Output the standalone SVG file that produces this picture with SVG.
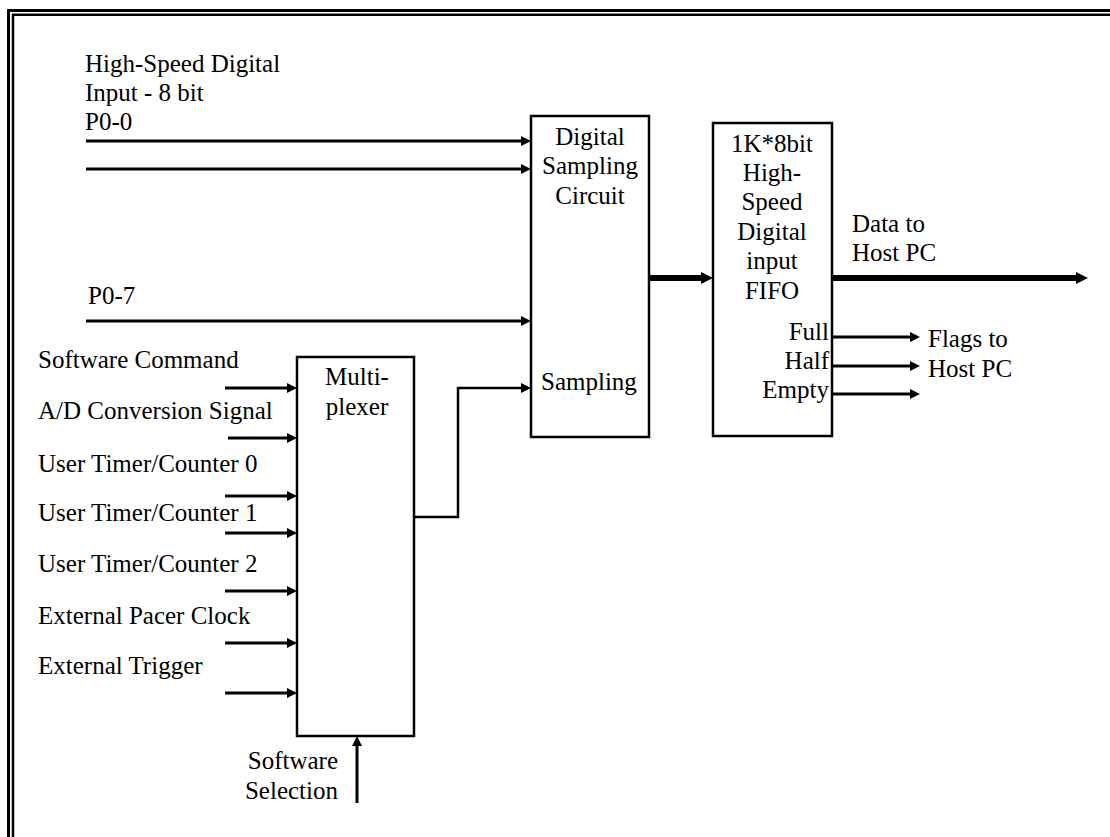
<svg xmlns="http://www.w3.org/2000/svg" width="1110" height="837" viewBox="0 0 1110 837">
<style>
text{font-family:'Liberation Serif','Times New Roman','DejaVu Serif',serif;font-size:25px;fill:#000}
.box{fill:#fff;stroke:#000;stroke-width:2.5}
.ln{fill:none;stroke:#000;stroke-width:3}
.thick{fill:none;stroke:#000;stroke-width:6}
.thin{fill:none;stroke:#000;stroke-width:2.5}
.frame{fill:none;stroke:#000}
.mid{text-anchor:middle}
.end{text-anchor:end}
</style>
<defs>
<marker id="ah" viewBox="0 0 10 10" refX="5" refY="5" markerWidth="10" markerHeight="10" markerUnits="userSpaceOnUse" orient="auto">
<path d="M0,0 L10,5 L0,10 z" fill="#000"/>
</marker>
<marker id="ahb" viewBox="0 0 12 12" refX="6" refY="6" markerWidth="12" markerHeight="12" markerUnits="userSpaceOnUse" orient="auto">
<path d="M0,0 L12,6 L0,12 z" fill="#000"/>
</marker>
</defs>
<rect width="1110" height="837" fill="#fff"/>
<g id="frame">
<path class="frame" stroke-width="3" d="M8.5,837 V10.5 H1110"/>
<path class="frame" stroke-width="2.5" d="M13,837 V14.7 H1110"/>
</g>
<g font-family="Liberation Serif, Times New Roman, serif">
<g id="labels-left">
<text x="85" y="72">High-Speed Digital</text>
<text x="85" y="101">Input - 8 bit</text>
<text x="85" y="130">P0-0</text>
<text x="88" y="304">P0-7</text>
<text x="38" y="368">Software Command</text>
<text x="38" y="419">A/D Conversion Signal</text>
<text x="38" y="472">User Timer/Counter 0</text>
<text x="38" y="521">User Timer/Counter 1</text>
<text x="38" y="572">User Timer/Counter 2</text>
<text x="38" y="624">External Pacer Clock</text>
<text x="38" y="674">External Trigger</text>
<text class="end" x="338" y="769">Software</text>
<text class="end" x="338" y="799">Selection</text>
</g>
<g id="dsc">
<rect class="box" x="531" y="116" width="118" height="321"/>
<text class="mid" x="590" y="145">Digital</text>
<text class="mid" x="590" y="174">Sampling</text>
<text class="mid" x="590" y="204">Circuit</text>
<text x="541" y="390">Sampling</text>
</g>
<g id="fifo">
<rect class="box" x="713" y="123" width="119" height="313"/>
<text class="mid" x="772" y="152">1K*8bit</text>
<text class="mid" x="772" y="181">High-</text>
<text class="mid" x="772" y="210">Speed</text>
<text class="mid" x="772" y="240">Digital</text>
<text class="mid" x="772" y="269">input</text>
<text class="mid" x="772" y="299">FIFO</text>
<text class="end" x="829" y="340">Full</text>
<text class="end" x="829" y="369">Half</text>
<text class="end" x="829" y="398">Empty</text>
</g>
<g id="mux">
<rect class="box" x="297" y="357" width="117" height="379"/>
<text class="mid" x="357" y="385">Multi-</text>
<text class="mid" x="357" y="415">plexer</text>
</g>
<g id="outputs">
<text x="852" y="232">Data to</text>
<text x="852" y="261">Host PC</text>
<text x="928" y="347">Flags to</text>
<text x="928" y="377">Host PC</text>
</g>
</g>
<g id="connectors">
<path class="ln" marker-end="url(#ah)" d="M86,141 H526"/>
<path class="ln" marker-end="url(#ah)" d="M86,169 H526"/>
<path class="ln" marker-end="url(#ah)" d="M86,321 H526"/>
<path class="thick" marker-end="url(#ahb)" d="M649,278 H707"/>
<path class="thick" marker-end="url(#ahb)" d="M832,278 H1082"/>
<path class="ln" marker-end="url(#ah)" d="M832,337 H915"/>
<path class="ln" marker-end="url(#ah)" d="M832,366 H915"/>
<path class="ln" marker-end="url(#ah)" d="M832,394 H915"/>
<path class="ln" marker-end="url(#ah)" d="M225,388 H292"/>
<path class="ln" marker-end="url(#ah)" d="M228,438 H292"/>
<path class="ln" marker-end="url(#ah)" d="M225,496 H292"/>
<path class="ln" marker-end="url(#ah)" d="M225,533 H292"/>
<path class="ln" marker-end="url(#ah)" d="M225,591 H292"/>
<path class="ln" marker-end="url(#ah)" d="M225,643 H292"/>
<path class="ln" marker-end="url(#ah)" d="M225,693 H292"/>
<path class="thin" marker-end="url(#ah)" d="M414,517 H458 V388 H526"/>
<path class="ln" marker-end="url(#ah)" d="M357,803 V741"/>
</g>
</svg>
